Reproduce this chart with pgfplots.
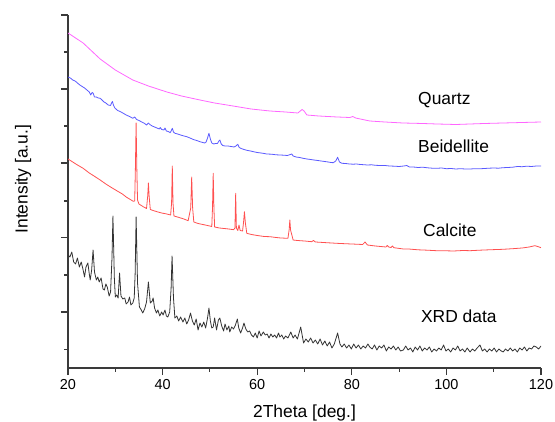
\documentclass[border=0pt]{standalone}
\usepackage{fontspec}
\setmainfont{Liberation Sans}
\usepackage{pgfplots}
\pgfplotsset{compat=1.18}
\definecolor{cQuartz}{HTML}{FF66FF}
\definecolor{cBeid}{HTML}{5A5AFF}
\definecolor{cCalc}{HTML}{FF5050}
\definecolor{cXrd}{HTML}{333333}
\definecolor{cAxis}{HTML}{3A3A3A}
\newcommand{\lblfont}{\fontsize{17.5}{20}\selectfont}
\begin{document}
\begin{tikzpicture}
\path[use as bounding box] (0,0) rectangle (555bp,422bp);
\begin{axis}[
    at={(68bp,54bp)}, anchor=south west,
    width=473bp, height=353bp, scale only axis,
    xmin=20, xmax=120, ymin=0, ymax=353,
    axis x line*=bottom, axis y line*=left,
    axis line style={cAxis, line width=1.3bp},
    tick style={cAxis, line width=1.1bp},
    tick align=outside,
    major tick length=7bp, minor tick length=3.5bp,
    xtick={20,40,60,80,100,120},
    minor xtick={30,50,70,90,110},
    ytick={56,130.5,205,279,353},
    minor ytick={18.6,93,167,242,316},
    yticklabels={},
    /pgf/number format/assume math mode=true,
    xticklabel style={font=\fontsize{14.5}{17}\selectfont, yshift=-1bp},
    xlabel={2Theta [deg.]},
    ylabel={Intensity [a.u.]},
    label style={font=\lblfont},
    xlabel style={at={(axis description cs:0.5,-0.1416)}, anchor=base},
    ylabel style={at={(axis description cs:-0.0951,0.535)}, anchor=center},
    every axis plot/.append style={line width=0.8bp, line join=round},
]
% Quartz
\addplot[color=cQuartz] coordinates {
    (20,335)(23.2,325)(26.8,309)(30,298)(33.7,288)(37,282)(40.9,276)(44,272)(47.9,268)(51,265)
    (54.9,262)(58.7,259)(62.7,257)(66,256)(68.6,255)(69.1,257)(69.5,258.5)(69.9,257)(70.5,253)(73,252)
    (76.9,251)(79.6,250.5)(80.2,251.5)(80.8,250)(83.8,247)(87,246)(90.8,245)(95,244.5)(98,244)(102,243.5)
    (105,244)(108,244.5)(112,245)(116,245.5)(120,246)
};
% Beidellite
\addplot[color=cBeid] coordinates {
    (20.0,291)(20.5,290)(21.0,288)(21.5,287)(22.0,285)(22.5,283)(23.0,281.5)(23.5,280)(24.0,278)(24.5,276)
    (24.8,273)(25.1,275.5)(25.3,275)(25.6,271)(26.0,271)(26.4,270)(26.8,269.7)(27.2,268)(27.6,266)(28.0,265)
    (28.5,263)(29.0,262.5)(29.2,265)(29.4,266.5)(29.6,263)(29.9,260)(30.5,257.5)(31.0,256.5)(31.7,254.7)(32.3,253)
    (33.0,251.5)(33.7,249.7)(34.1,251)(34.5,248.5)(35.0,247.5)(35.6,246)(36.2,244.5)(36.6,243)(37.0,245)(37.3,243.5)
    (37.8,242)(38.3,241)(38.8,240)(39.3,239)(39.5,240.5)(39.8,238.5)(40.3,238)(40.5,240)(40.8,237)(41.2,236.5)
    (41.6,235.3)(41.8,237)(42.05,239.7)(42.3,236)(42.6,234.7)(43.2,234)(43.8,233)(44.5,232)(45.1,231.3)(45.8,230)
    (46.5,228.5)(47.2,227.5)(47.9,226.3)(48.5,225.5)(48.9,225)(49.2,226)(49.5,230)(49.8,234.7)(50.1,229)(50.4,225)
    (50.8,224)(51.2,224.5)(51.6,224.5)(51.9,227)(52.1,228)(52.4,224)(52.7,222.5)(53.2,222)(53.8,222)(54.5,221.5)
    (55.1,221)(55.5,222)(55.9,223.7)(56.2,220.5)(56.6,219.5)(57.2,218.5)(58.0,217.5)(58.6,217)(59.2,216.3)(60.0,215.5)
    (60.8,215)(61.5,214.5)(62.0,214)(63.0,213.8)(64.0,213.2)(64.8,213)(65.6,212.8)(66.4,212.5)(67.0,213.5)(67.3,214)
    (67.6,212)(68.2,211)(69.0,210.5)(69.7,209.7)(70.5,209)(71.3,208.5)(72.0,208)(72.8,207.5)(73.5,207)(74.3,206.5)
    (75.0,206)(75.6,205.5)(76.1,205.3)(76.6,207)(77.0,210.7)(77.4,206)(77.9,204.7)(78.7,204.5)(79.5,204)(80.3,203.8)
    (81.0,204)(81.8,203.5)(82.5,203.3)(83.3,203)(84.2,203.2)(85.0,202.7)(86.0,202.5)(87.0,202.5)(88.0,202)(89.0,201.8)
    (90.0,201.5)(91.0,202)(91.6,202.5)(92.2,201)(93.0,201)(94.0,200.5)(95.0,200.8)(96.0,200.2)(97.0,199.8)(97.9,199.7)
    (99.0,200)(100.0,199.3)(101.0,199.5)(102.0,199)(103.0,199.3)(104.0,199)(105.0,199)(106.0,199.3)(107.0,199.2)(108.0,199.5)
    (109.0,199.8)(110.0,200)(111.0,199.8)(112.0,200.3)(113.0,200.5)(114.0,200.8)(115.0,201.5)(116.0,201.3)(117.0,201.8)(118.0,201.5)
    (119.0,202)(120.0,202)
};
% Calcite
\addplot[color=cCalc] coordinates {
    (20.0,209)(21.0,206)(22.0,203)(23.2,199.7)(24.5,195)(25.5,192)(26.8,188)(28.0,184)(29.0,181)(30.3,177.3)
    (31.5,174)(32.3,171)(33.1,168.7)(33.8,166.7)(34.1,167)(34.25,200)(34.4,245)(34.55,200)(34.7,168)(35.0,164)
    (35.9,161.3)(36.6,159.5)(36.85,172)(37.0,185)(37.15,172)(37.4,158.5)(38.0,157.5)(38.8,156.3)(39.8,155)(40.9,154)
    (41.7,153)(41.9,165)(42.05,202)(42.2,165)(42.4,152)(43.5,150.5)(44.5,149)(45.4,147.3)(45.95,160)(46.15,191)
    (46.35,160)(46.6,146)(47.5,144.5)(48.5,143.5)(49.5,142.5)(50.4,141.5)(50.55,160)(50.7,194.7)(50.85,160)(51.0,141)
    (52.0,140)(53.0,139.5)(54.0,139)(55.0,138.3)(55.3,140)(55.45,174.7)(55.6,140)(55.9,137.5)(56.15,143)(56.4,137.5)
    (56.9,137)(57.1,145)(57.3,156.3)(57.5,145)(57.8,134.7)(58.8,133.5)(60.0,132.5)(61.5,131.5)(62.7,131.3)(64.0,130.5)
    (65.0,130)(66.5,129.7)(66.75,138)(66.9,148)(67.05,138)(67.6,128)(68.5,127.5)(70.0,127)(71.5,126.3)(71.9,127.5)
    (72.3,126)(74.0,125.5)(76.8,124.7)(78.5,124.3)(80.0,124)(82.3,123.5)(82.8,126)(83.3,123)(85.0,122)(87.2,121)
    (87.5,122.5)(87.8,121)(88.3,120.5)(88.6,122)(88.9,120.3)(90.9,119)(92.0,119)(94.0,118.2)(96.0,117.8)(97.9,117.3)
    (100,117.2)(101.5,117)(103.5,117.5)(105,117.3)(107,117.8)(109,118.2)(112,118.7)(114,119.3)(116,120)(117.5,121)
    (118.7,122.3)(119.3,121.5)(120,120.3)
};
% XRD data
\addplot[color=cXrd] coordinates {
    (20.0,113)(20.4,111)(20.8,116)(21.2,106)(21.6,104)(22.0,110)(22.4,101)(22.8,106)(23.2,98)(23.5,91)
    (23.8,101)(24.2,105)(24.5,94)(24.7,88)(25.0,98)(25.3,118)(25.6,96)(26.0,88)(26.3,91)(26.6,86)
    (27.0,90)(27.4,79)(27.7,78)(28.0,84)(28.3,81)(28.7,72)(29.0,76)(29.3,110)(29.5,152)(29.8,90)
    (30.0,71)(30.3,73)(30.6,70)(30.9,95)(31.2,72)(31.6,69)(32.0,70)(32.3,64)(32.7,66)(33.0,71)
    (33.3,63)(33.7,65)(34.0,70)(34.2,95)(34.4,151)(34.7,85)(35.1,61)(35.5,58)(35.8,55)(36.2,59)
    (36.6,66)(37.0,86)(37.4,65)(37.8,67)(38.0,70)(38.3,60)(38.7,55)(39.0,58)(39.4,52)(39.8,56)
    (40.1,53)(40.5,58)(40.8,52)(41.1,51)(41.5,56)(41.8,80)(42.0,112)(42.3,70)(42.6,50)(43.0,52)
    (43.4,47)(43.8,51)(44.3,46)(44.7,50)(45.1,44)(45.5,48)(45.9,55)(46.3,47)(46.7,43)(47.1,49)
    (47.5,38)(47.9,45)(48.3,41)(48.7,46)(49.1,40)(49.5,50)(49.8,60)(50.1,47)(50.4,40)(50.7,41)
    (51.0,50)(51.4,38)(51.8,48)(52.1,50)(52.5,42)(52.9,37)(53.2,44)(53.6,38)(54.0,42)(54.2,36)
    (54.6,41)(55.0,39)(55.4,43)(55.8,49)(56.1,40)(56.5,35)(56.9,40)(57.2,45)(57.6,39)(58.0,36)
    (58.4,37)(58.8,33)(59.2,31)(59.6,35)(60.0,30)(60.4,37)(60.8,32)(61.3,36)(61.7,33)(62.1,34)
    (62.5,30)(62.9,34)(63.3,31)(63.7,33)(64.1,30)(64.5,35)(64.8,31)(65.2,33)(65.6,29)(66.0,32)
    (66.5,30)(67.1,36)(67.6,30)(68.0,33)(68.5,29)(69.2,41)(69.8,25)(70.3,29)(70.8,26)(71.3,30)
    (71.8,25)(72.3,28)(72.8,24)(73.3,29)(73.8,23)(74.3,27)(74.8,22)(75.3,26)(75.8,20)(76.3,24)
    (77.0,35)(77.5,24)(77.9,21)(78.4,24)(78.9,20)(79.4,23)(79.9,19)(80.4,24)(80.9,20)(81.4,23)
    (81.9,19)(82.4,22)(82.9,20)(83.4,24)(83.8,21)(84.3,19)(84.8,23)(85.3,18)(85.8,22)(86.3,20)
    (86.8,23)(87.3,17)(87.8,21)(88.3,19)(88.8,22)(89.3,18)(89.8,21)(90.3,17)(90.9,18)(91.4,22)
    (91.9,18)(92.4,20)(92.9,16)(93.4,21)(93.9,18)(94.4,22)(94.9,17)(95.4,20)(95.9,18)(96.4,21)
    (96.9,16)(97.4,19)(97.9,17)(98.4,20)(98.9,18)(99.4,23)(99.9,17)(100.4,19)(100.9,16)(101.4,20)
    (101.9,18)(102.4,22)(102.9,17)(103.4,19)(103.9,16)(104.4,20)(105.0,16)(105.5,19)(106.0,17)(106.5,20)
    (107.1,23)(107.6,17)(108.1,19)(108.6,16)(109.1,19)(109.6,17)(110.1,20)(110.6,16)(111.1,19)(111.6,17)
    (112.0,16)(112.5,19)(113.0,17)(113.5,20)(114.0,17)(114.5,19)(115.0,16)(115.5,20)(116.0,18)(116.5,21)
    (117.0,17)(117.5,20)(118.0,19)(118.5,22)(119.0,21)(119.5,19)(120.0,22)
};
\node[anchor=base west, inner sep=0, font=\lblfont] at (axis cs:94.0,263) {Quartz};
\node[anchor=base west, inner sep=0, font=\lblfont] at (axis cs:94.0,215) {Beidellite};
\node[anchor=base west, inner sep=0, font=\lblfont] at (axis cs:95.05,131) {Calcite};
\node[anchor=base west, inner sep=0, font=\lblfont] at (axis cs:94.6,45) {XRD data};
\end{axis}
\end{tikzpicture}
\end{document}
